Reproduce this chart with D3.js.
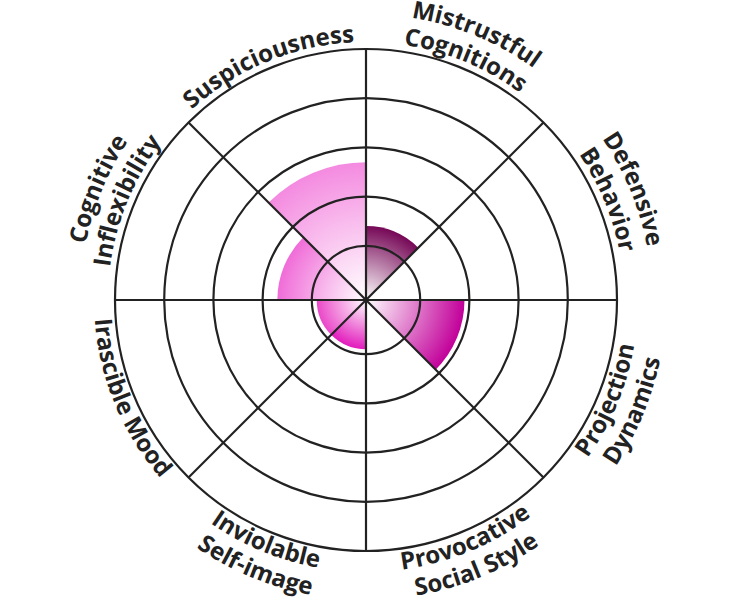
<!DOCTYPE html>
<html>
<head>
<meta charset="utf-8">
<script src="https://cdn.jsdelivr.net/npm/d3@7"></script>
<style>
  body { margin: 0; background: #fff; }
  svg { display: block; }
  .label { font-family: "Open Sans", sans-serif; font-weight: 700; font-size: 24px; fill: #222; }
</style>
</head>
<body>
<svg id="chart"></svg>
<script>
// categories clockwise from 12 o'clock
var categories = ["Mistrustful Cognitions", "Defensive Behavior", "Projection Dynamics", "Provocative Social Style",
    "Inviolable Self-image", "Irascible Mood", "Cognitive Inflexibility", "Suspiciousness"];
var labelLines = [["Mistrustful", "Cognitions"], ["Defensive", "Behavior"], ["Projection", "Dynamics"],
    ["Provocative", "Social Style"], ["Inviolable", "Self-image"], ["Irascible Mood"],
    ["Cognitive", "Inflexibility"], ["Suspiciousness"]];
var values = [1.4, 0, 1.9, 0, 0.9, 0.9, 1.7, 2.7];
var ringTicks = [1, 2, 3, 4, 5];
var palette = ["#760857", "#a0107a", "#c2009a", "#d010b0", "#e21cbc", "#ea48c8", "#f06cd8", "#f48ae0"];

var width = 732, height = 600;
var cx = 366, cy = 300;

var svg = d3.select('#chart')
    .attr('width', width)
    .attr('height', height);

var g = svg.append('g')
    .attr('transform', 'translate(' + cx + ',' + cy + ')');

var r = d3.scaleLinear().domain([0, 5]).range([5, 251]);
var step = 2 * Math.PI / categories.length;

var defs = svg.append('defs');
values.forEach(function (v, i) {
    var grad = defs.append('radialGradient')
        .attr('id', 'grad' + i)
        .attr('gradientUnits', 'userSpaceOnUse')
        .attr('cx', 0).attr('cy', 0)
        .attr('r', r(v));
    grad.append('stop').attr('offset', '0%').attr('stop-color', '#ffffff');
    grad.append('stop').attr('offset', '100%').attr('stop-color', palette[i]);
});

var arc = d3.arc()
    .innerRadius(0)
    .outerRadius(function (d) { return r(d.v); })
    .startAngle(function (d) { return d.i * step; })
    .endAngle(function (d) { return (d.i + 1) * step; });

g.append('g')
    .selectAll('path')
    .data(values.map(function (v, i) { return { v: v, i: i }; }).filter(function (d) { return d.v > 0; }))
    .enter().append('path')
    .attr('d', arc)
    .attr('fill', function (d) { return 'url(#grad' + d.i + ')'; });

// grid
g.append('g')
    .selectAll('circle')
    .data(ringTicks)
    .enter().append('circle')
    .attr('r', function (d) { return r(d); })
    .attr('fill', 'none')
    .attr('stroke', '#222')
    .attr('stroke-width', 2.2);

g.append('g')
    .selectAll('line')
    .data(categories)
    .enter().append('line')
    .attr('x1', 0).attr('y1', 0)
    .attr('x2', function (d, i) { return r(5) * Math.sin(i * step); })
    .attr('y2', function (d, i) { return -r(5) * Math.cos(i * step); })
    .attr('stroke', '#222')
    .attr('stroke-width', 2.2);

// curved labels
function pt(rad, a) {
    return [rad * Math.sin(a), -rad * Math.cos(a)];
}

var span = 45 * Math.PI / 180;
labelLines.forEach(function (lines, i) {
    var mid = (i + 0.5) * step;
    var top = Math.cos(mid) > 0;
    lines.forEach(function (line, j) {
        var rad;
        if (top) {
            rad = (lines.length == 1 || j == 1) ? 258 : 286;
        } else {
            rad = j == 0 ? 272 : 300;
        }
        var p1, p2, sweep;
        if (top) {
            p1 = pt(rad, mid - span); p2 = pt(rad, mid + span); sweep = 1;
        } else {
            p1 = pt(rad, mid + span); p2 = pt(rad, mid - span); sweep = 0;
        }
        var id = 'lp' + i + '_' + j;
        defs.append('path')
            .attr('id', id)
            .attr('d', 'M' + p1[0] + ',' + p1[1] + ' A' + rad + ',' + rad + ' 0 0 ' + sweep + ' ' + p2[0] + ',' + p2[1]);
        g.append('text')
            .attr('class', 'label')
            .append('textPath')
            .attr('href', '#' + id)
            .attr('startOffset', '50%')
            .attr('text-anchor', 'middle')
            .text(line);
    });
});
</script>
</body>
</html>
